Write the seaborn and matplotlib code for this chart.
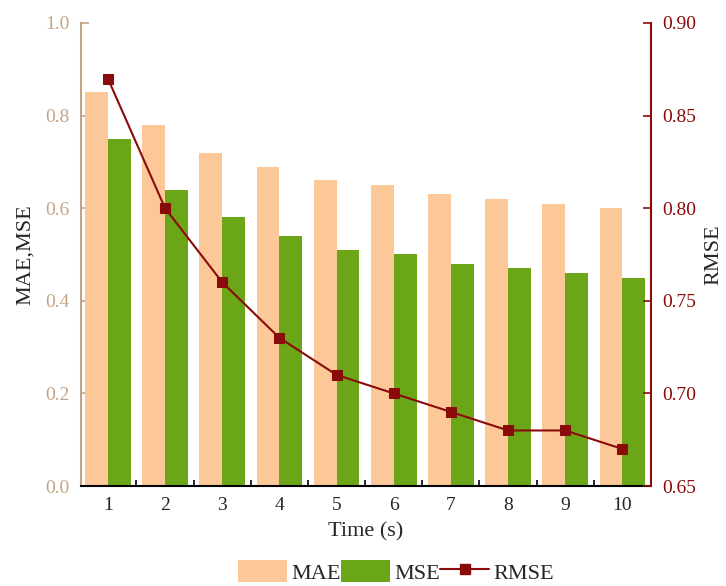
import matplotlib
matplotlib.use("Agg")
import matplotlib.pyplot as plt
import seaborn as sns
import pandas as pd
import numpy as np
from matplotlib.ticker import FixedLocator
from matplotlib.patches import Patch
from matplotlib.lines import Line2D

sns.set_style("ticks")
plt.rcParams['font.family'] = ['Liberation Serif', 'DejaVu Serif']

# data
time_s = [1, 2, 3, 4, 5, 6, 7, 8, 9, 10]
mae = [0.85, 0.78, 0.72, 0.69, 0.66, 0.65, 0.63, 0.62, 0.61, 0.60]
mse = [0.75, 0.64, 0.58, 0.54, 0.51, 0.50, 0.48, 0.47, 0.46, 0.45]
rmse = [0.87, 0.80, 0.76, 0.73, 0.71, 0.70, 0.69, 0.68, 0.68, 0.67]

mae_color = '#FDC898'
mse_color = '#6BA618'
rmse_color = '#8B0A0A'
tan = '#C4A484'

bars = pd.DataFrame({
    'Time': [str(t) for t in time_s] * 2,
    'value': mae + mse,
    'metric': ['MAE'] * len(mae) + ['MSE'] * len(mse),
})

fig = plt.figure(figsize=(7.26, 5.86), dpi=100)
ax = fig.add_axes([0.1116, 0.1706, 0.7851, 0.7902])

sns.barplot(data=bars, x='Time', y='value', hue='metric', order=[str(t) for t in time_s],
            palette={'MAE': mae_color, 'MSE': mse_color}, width=0.8, gap=0, saturation=1,
            linewidth=0, edgecolor='none', ax=ax, legend=False)

ax2 = ax.twinx()
line_df = pd.DataFrame({'pos': np.arange(len(time_s)), 'RMSE': rmse})
sns.lineplot(data=line_df, x='pos', y='RMSE', color=rmse_color, marker='s',
             markersize=7, markeredgecolor=rmse_color, linewidth=1.5, ax=ax2)

ax.set_xlim(-0.47, 9.5)
ax.set_ylim(0, 1.0)
ax2.set_ylim(0.65, 0.90)
ax.set_yticks([0.0, 0.2, 0.4, 0.6, 0.8, 1.0])
ax2.set_yticks([0.65, 0.70, 0.75, 0.80, 0.85, 0.90])

ax.set_xlabel('Time (s)', fontsize=16, labelpad=6)
ax.set_ylabel('MAE,MSE', fontsize=16, labelpad=8)
ax2.set_ylabel('RMSE', fontsize=16, labelpad=6)
ax2.set_xlabel('')

# spines
ax.spines['top'].set_visible(False)
ax.spines['right'].set_visible(False)
ax.spines['left'].set_color(tan)
ax.spines['left'].set_linewidth(1.5)
ax.spines['bottom'].set_color('black')
ax.spines['bottom'].set_linewidth(1.5)
ax2.spines['top'].set_visible(False)
ax2.spines['left'].set_visible(False)
ax2.spines['bottom'].set_visible(False)
ax2.spines['right'].set_color(rmse_color)
ax2.spines['right'].set_linewidth(1.5)

ax.tick_params(axis='y', direction='in', length=6, width=1.2, color=tan,
               labelcolor=tan, labelsize=14, pad=8)
ax2.tick_params(axis='y', direction='in', length=6, width=1.2, color=rmse_color,
                labelcolor=rmse_color, labelsize=14, pad=8)
ax.tick_params(axis='x', which='major', length=0, labelsize=14, pad=8)
ax.xaxis.set_minor_locator(FixedLocator(np.arange(0.5, 9.5, 1.0)))
ax.tick_params(axis='x', which='minor', direction='in', length=4, width=1.2, color='black')

# legend below the axes
handles = [Patch(facecolor=mae_color, edgecolor='none', label='MAE'),
           Patch(facecolor=mse_color, edgecolor='none', label='MSE'),
           Line2D([], [], color=rmse_color, marker='s', markersize=7, linewidth=1.5, label='RMSE')]
fig.legend(handles=handles, loc='center', bbox_to_anchor=(0.546, 0.024), ncol=3,
           frameon=False, fontsize=16, handlelength=2.2, handleheight=1.1,
           handletextpad=0.2, columnspacing=0.0, borderpad=0)

fig.savefig('out.png', dpi=100)
